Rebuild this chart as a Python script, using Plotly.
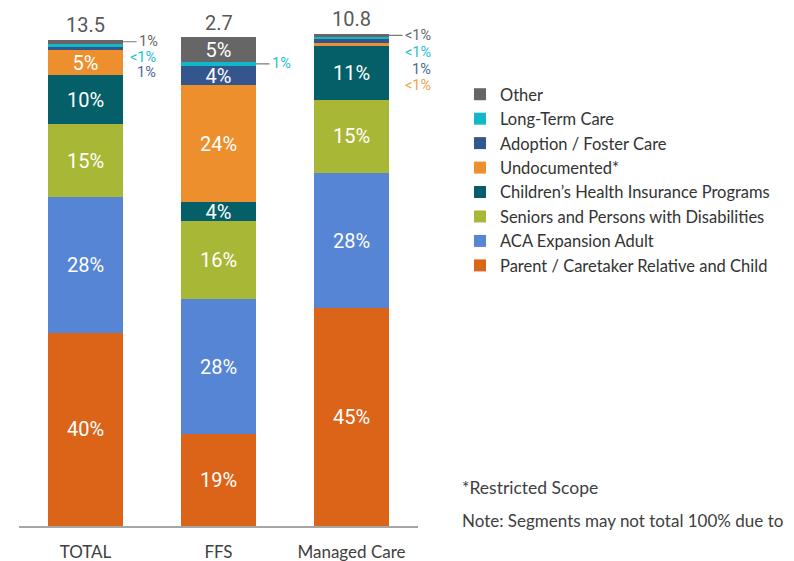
import plotly.graph_objects as go

# ---------------- data ----------------
categories = ["TOTAL", "FFS", "Managed Care"]
totals = [13.5, 2.7, 10.8]

series_names = [
    "Parent / Caretaker Relative and Child",
    "ACA Expansion Adult",
    "Seniors and Persons with Disabilities",
    "Children’s Health Insurance Programs",
    "Undocumented*",
    "Adoption / Foster Care",
    "Long-Term Care",
    "Other",
]

parent = [39.7, 18.9, 44.7]
aca = [27.9, 27.7, 27.9]
seniors = [14.9, 16.1, 14.9]
chip = [10.1, 3.8, 11.2]
undocumented = [5.1, 24.1, 0.5]
adoption = [0.8, 3.9, 1.0]
long_term = [0.6, 0.9, 0.3]
other = [0.8, 5.0, 0.6]

parent_labels = ["40%", "19%", "45%"]
aca_labels = ["28%", "28%", "28%"]
seniors_labels = ["15%", "16%", "15%"]
chip_labels = ["10%", "4%", "11%"]
undocumented_labels = ["5%", "24%", "<1%"]
adoption_labels = ["1%", "4%", "1%"]
long_term_labels = ["<1%", "1%", "<1%"]
other_labels = ["1%", "5%", "<1%"]

footnote = "*Restricted Scope"
note = "Note: Segments may not total 100% due to"

# ---------------- styling ----------------
# page body has an 8px default margin, so the figure is drawn 8px smaller
OFF = 8
W, H = 794 - OFF, 561 - OFF
colors = ["#dc6419", "#5585d4", "#a9b737", "#055f69", "#ec8f2c", "#34568e", "#12b8c8", "#666666"]
outside_colors = ["#dc6419", "#5585d4", "#a9b737", "#055f69", "#f0a04a", "#4a6598", "#22bfcf", "#666666"]
narrow = "Roboto, Liberation Sans Narrow, DejaVu Sans Condensed, sans-serif"
body = "Lato, Open Sans, sans-serif"

values = [parent, aca, seniors, chip, undocumented, adoption, long_term, other]
labels = [parent_labels, aca_labels, seniors_labels, chip_labels,
          undocumented_labels, adoption_labels, long_term_labels, other_labels]

INSIDE_MIN = 2.0
plot_bottom_px = 526 - OFF
px_per_unit = 4.867
y_max = plot_bottom_px / px_per_unit

fig = go.Figure()
for i, (name, vals, labs) in enumerate(zip(series_names, values, labels)):
    txt = [l if v >= INSIDE_MIN else "" for v, l in zip(vals, labs)]
    fig.add_trace(go.Bar(
        name=name, x=categories, y=vals, text=txt,
        textposition="inside", insidetextanchor="middle", textangle=0,
        constraintext="none", cliponaxis=False,
        insidetextfont=dict(family=narrow, size=20, color="white"),
        marker=dict(color=colors[i], line=dict(width=0)),
        width=0.564, legendgroup=f"g{i}",
        hoverinfo="skip",
    ))

annotations = []
# totals above bars
for c, t, *segs in zip(categories, totals, *values):
    annotations.append(dict(
        x=c, y=sum(segs), xref="x", yref="y", text=f"{t}", showarrow=False,
        yanchor="middle", yshift=14.5,
        font=dict(family=narrow, size=20, color="#595959")))

# small segments labelled outside the bars
bar_half_px = 0.564 * 133 / 2
stack_right = {0: 71.5, 1: 71.5, 2: 80.5}
stack_step = {0: 15.5, 1: 16.5, 2: 16.8}
for ci, c in enumerate(categories):
    small = [k for k in range(len(values) - 1, -1, -1) if values[k][ci] < INSIDE_MIN]
    if not small:
        continue
    first = small[0]
    base = sum(values[k][ci] for k in range(first)) + values[first][ci] / 2
    for j, k in enumerate(small):
        if j == 0:
            annotations.append(dict(
                x=c, y=base, xref="x", yref="y", text=labels[k][ci],
                showarrow=True, arrowhead=0, arrowwidth=1.2, arrowcolor="#7a7a7a",
                ax=13.5, ay=0, axref="pixel", ayref="pixel", standoff=0,
                xshift=bar_half_px, xanchor="left", yanchor="middle",
                font=dict(family=narrow, size=14.5, color=outside_colors[k])))
        else:
            annotations.append(dict(
                x=c, y=base, xref="x", yref="y", text=labels[k][ci], showarrow=False,
                xanchor="right", yanchor="middle", borderpad=0,
                xshift=stack_right[ci], yshift=-stack_step[ci] * j,
                font=dict(family=narrow, size=14.5, color=outside_colors[k])))

annotations.append(dict(x=(460 - OFF) / W, y=(H - (487 - OFF)) / H, xref="paper", yref="paper",
                        text=footnote, showarrow=False, xanchor="left", yanchor="middle",
                        font=dict(family=body, size=17.5, color="#404040")))
annotations.append(dict(x=(460 - OFF) / W, y=(H - (520 - OFF)) / H, xref="paper", yref="paper",
                        text=note, showarrow=False, xanchor="left", yanchor="middle",
                        font=dict(family=body, size=17, color="#404040")))

fig.update_layout(
    width=W, height=H, barmode="stack",
    margin=dict(l=0, r=0, t=0, b=0),
    paper_bgcolor="white", plot_bgcolor="white",
    showlegend=True,
    legend=dict(x=(460 - OFF) / W, y=(H - (77 - OFF)) / H, xanchor="left", yanchor="top",
                traceorder="reversed", tracegroupgap=0.7,
                font=dict(family=body, size=16.5, color="#333333"),
                bgcolor="rgba(0,0,0,0)"),
    xaxis=dict(domain=[(19 - OFF) / W, (418 - OFF) / W], range=[-0.5, 2.5],
               showline=True, linecolor="#a6a6a6", linewidth=1.5,
               showgrid=False, zeroline=False, ticks="", ticklabelstandoff=10,
               tickfont=dict(family=body, size=17, color="#404040")),
    yaxis=dict(domain=[(H - plot_bottom_px) / H, 1], range=[0, y_max], visible=False,
               showgrid=False, zeroline=False),
    annotations=annotations,
)

fig.write_html("out.html")
